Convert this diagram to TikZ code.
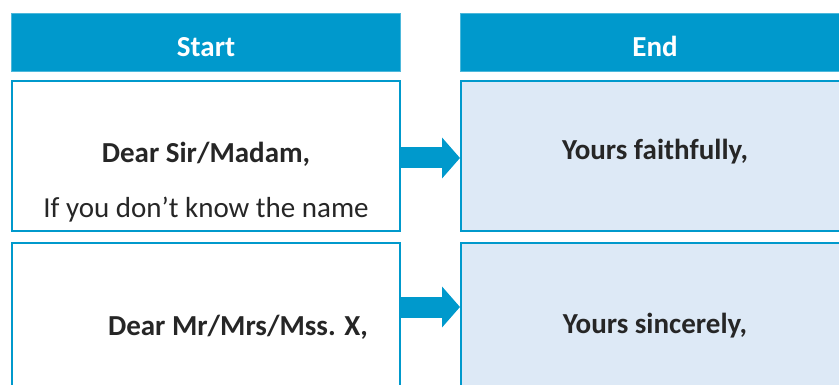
\documentclass[tikz,border=0pt]{standalone}
\usepackage{fontspec}
\setmainfont{Carlito}
\usetikzlibrary{arrows.meta}
\definecolor{kopfblau}{RGB}{0,153,204}
\definecolor{hellblau}{RGB}{221,233,246}
\definecolor{schrift}{RGB}{38,38,38}
\begin{document}
\begin{tikzpicture}[x=1pt,y=-1pt,
  kopf/.style={rectangle, fill=kopfblau, draw=kopfblau!70!white, line width=0.6pt, minimum width=389pt, minimum height=58pt, inner sep=0pt},
  feld/.style={rectangle, draw=kopfblau, line width=2pt, minimum width=388pt, minimum height=150pt, inner sep=0pt},
  txt/.style={anchor=base, inner sep=0pt, text=schrift, font=\fontsize{29}{35}\selectfont},
  fett/.style={txt, font=\fontsize{29}{35}\selectfont\bfseries},
  pfeil/.style={line width=21pt, draw=kopfblau, -{Triangle[width=40pt,length=18pt]}}]
\useasboundingbox (0,0) rectangle (839,385);
\clip (0,0) rectangle (839,385);
% Spaltenkoepfe
\node[kopf](start) at (206,42.5) {};
\node[kopf](ende) at (655,42.5) {};
\node[fett, text=white] at (206,57) {Start};
\node[fett, text=white] at (655,57) {End};
% Felder
\node[feld, fill=white](a1) at (206,156) {};
\node[feld, fill=hellblau](b1) at (655,156) {};
\node[feld, fill=white](a2) at (206,318) {};
\node[feld, fill=hellblau](b2) at (655,318) {};
\node[fett] at (206,163) {Dear Sir/Madam,};
\node[txt] at (206,218) {If you don’t know the name};
\node[fett] at (238,335) {Dear Mr/Mrs/Mss. X,};
\node[fett] at (655,160) {Yours faithfully,};
\node[fett] at (655,333) {Yours sincerely,};
% Pfeile
\draw[pfeil] ([yshift=-2pt]a1.east) -- ([yshift=-2pt]b1.west);
\draw[pfeil] ([yshift=11pt]a2.east) -- ([yshift=11pt]b2.west);
\end{tikzpicture}
\end{document}
